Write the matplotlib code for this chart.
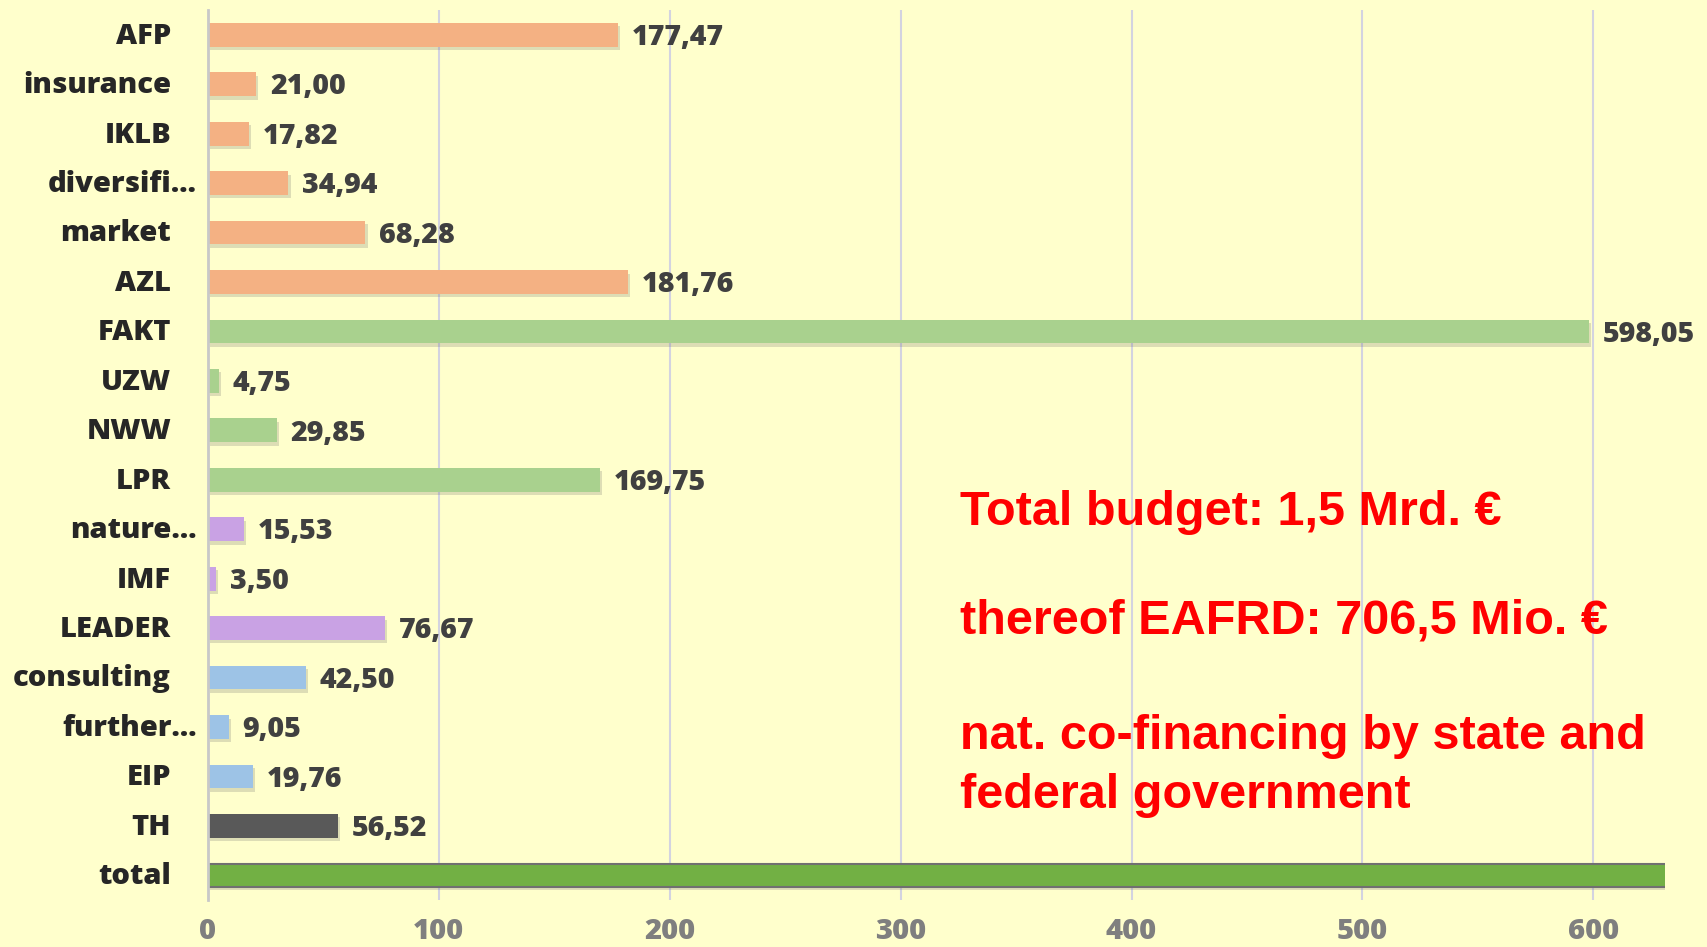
import matplotlib
matplotlib.use("Agg")

import matplotlib.pyplot as plt
import matplotlib.patheffects as pe

# ---- data (top to bottom) ----
categories = ["AFP", "insurance", "IKLB", "diversifi…", "market", "AZL",
              "FAKT", "UZW", "NWW", "LPR", "nature…", "IMF", "LEADER",
              "consulting", "further…", "EIP", "TH", "total"]
values = [177.47, 21.00, 17.82, 34.94, 68.28, 181.76,
          598.05, 4.75, 29.85, 169.75, 15.53, 3.50, 76.67,
          42.50, 9.05, 19.76, 56.52, 1527.20]
groups = ["orange"] * 6 + ["green"] * 4 + ["purple"] * 3 + ["blue"] * 3 + ["dark", "total"]
show_value = [True] * 17 + [False]
truncated = ["…" in c for c in categories]

notes = ["Total budget: 1,5 Mrd. €",
         "thereof EAFRD: 706,5 Mio. €",
         "nat. co-financing by state and\nfederal government"]

group_colors = {
    "orange": "#F4B183",
    "green": "#A9D18E",
    "purple": "#C9A2E4",
    "blue": "#9DC3E6",
    "dark": "#595959",
    "total": "#72B044",
}

BG = "#FFFFCC"
LABEL_FONT = "Open Sans"
NOTE_FONT = "Liberation Sans"

fig = plt.figure(figsize=(17.07, 9.47), dpi=100, facecolor=BG)
ax = fig.add_axes([0.1217, 0.0496, 0.9754 - 0.1217, 0.9894 - 0.0496])
ax.set_facecolor(BG)

shadow = [pe.SimplePatchShadow(offset=(1.5, -2.5), shadow_rgbFace="#666666", alpha=0.22),
          pe.Normal()]

for i, (v, g) in enumerate(zip(values, groups)):
    if g == "total":
        ax.barh(i, v, height=0.46, color=group_colors[g], edgecolor="#707070",
                linewidth=1.5, path_effects=shadow, zorder=3)
    else:
        ax.barh(i, v, height=0.48, color=group_colors[g], linewidth=0,
                path_effects=shadow, zorder=3)
    if show_value[i]:
        ax.annotate(f"{v:.2f}".replace(".", ","), xy=(v, i), xytext=(10, -2),
                    textcoords="offset points", va="center", ha="left",
                    fontsize=20.5, fontweight="heavy", family=LABEL_FONT,
                    color="#404040", zorder=4)

# category labels (Excel-like: truncated ones sit closer to the axis)
for i, c in enumerate(categories):
    off = -7.7 if truncated[i] else -26.4
    ax.annotate(c, xy=(0, i), xycoords=("axes fraction", "data"),
                xytext=(off, -1), textcoords="offset points",
                ha="right", va="center", fontsize=21, fontweight="heavy",
                family=LABEL_FONT, color="#262626", annotation_clip=False)

ax.set_ylim(len(categories) - 0.5, -0.5)
ax.set_xlim(0, 631)
ax.set_yticks([])
ax.set_xticks(range(0, 601, 100))
ax.tick_params(axis="x", length=0, pad=12, labelsize=21, labelcolor="#7F7F7F")
for t in ax.get_xticklabels():
    t.set_fontweight("heavy")
    t.set_family(LABEL_FONT)

ax.grid(axis="x", color="#D3D3E0", linewidth=1.5, zorder=0)
ax.set_axisbelow(True)
for s in ["top", "right", "bottom"]:
    ax.spines[s].set_visible(False)
ax.spines["left"].set_color("#C8C8C8")
ax.spines["left"].set_linewidth(2)
ax.spines["left"].set_zorder(5)

# red notes (baseline of the last line of each block)
note_y = [0.4456, 0.331, 0.147]
for txt, ny in zip(notes, note_y):
    fig.text(0.5625, ny, txt, color="#FF0000", fontsize=35, fontweight="bold",
             family=[NOTE_FONT, "DejaVu Sans"], ha="left", va="baseline",
             linespacing=1.38)

fig.savefig("out.png", dpi=100, facecolor=BG)
plt.close(fig)
